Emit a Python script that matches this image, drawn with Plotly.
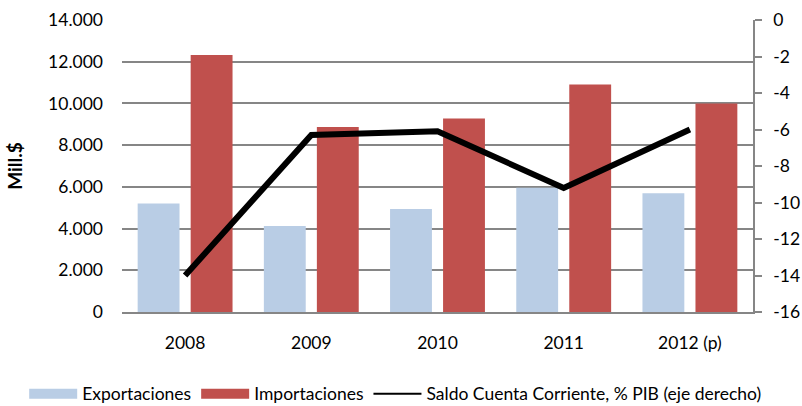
import plotly.graph_objects as go

years = ["2008", "2009", "2010", "2011", "2012 (p)"]
exportaciones = [5200, 4120, 4940, 5960, 5690]
importaciones = [12320, 8870, 9280, 10910, 10000]
saldo_pib = [-14.0, -6.3, -6.1, -9.2, -6.0]

left_ticks = [0, 2000, 4000, 6000, 8000, 10000, 12000, 14000]
left_labels = ["0", "2.000", "4.000", "6.000", "8.000", "10.000", "12.000", "14.000"]
right_ticks = [0, -2, -4, -6, -8, -10, -12, -14, -16]
right_labels = ["0", "-2", "-4", "-6", "-8", "-10", "-12", "-14", "-16"]

FONT = "Lato"
SIZE = 17.5
EXP_COLOR = "#B9CDE5"
IMP_COLOR = "#C0504D"
line_name = "Saldo Cuenta Corriente, % PIB (eje derecho)"

fig = go.Figure()
fig.add_trace(go.Bar(x=years, y=exportaciones, name="Exportaciones", showlegend=False,
                     marker=dict(color=EXP_COLOR, line=dict(width=0))))
fig.add_trace(go.Bar(x=years, y=importaciones, name="Importaciones", showlegend=False,
                     marker=dict(color=IMP_COLOR, line=dict(width=0))))
fig.add_trace(go.Scatter(x=years, y=saldo_pib, name=line_name,
                         mode="lines", yaxis="y2", showlegend=False,
                         line=dict(color="black", width=6)))
# legend-only entries: wide rectangular swatches and a thin line, as in the reference
fig.add_trace(go.Scatter(x=[years[0]], y=[None], name="Exportaciones", mode="lines",
                         line=dict(color=EXP_COLOR, width=12)))
fig.add_trace(go.Scatter(x=[years[0]], y=[None], name="Importaciones", mode="lines",
                         line=dict(color=IMP_COLOR, width=12)))
fig.add_trace(go.Scatter(x=[years[0]], y=[None], name=line_name, mode="lines",
                         yaxis="y2", line=dict(color="black", width=2)))

fig.update_layout(
    width=802, height=406,
    margin=dict(l=122, r=49, t=20, b=94, autoexpand=False),
    paper_bgcolor="white", plot_bgcolor="white",
    font=dict(family=FONT, size=SIZE, color="#000000"),
    barmode="group", bargap=0.16, bargroupgap=0.21,
    showlegend=True,
    legend=dict(orientation="h", x=-0.155, xanchor="left", y=-0.28, yanchor="middle",
                font=dict(family=FONT, size=SIZE), traceorder="normal",
                itemwidth=48, tracegroupgap=0),
    xaxis=dict(showgrid=False, showline=True, linecolor="#868686", linewidth=2,
               ticks="", ticklabelstandoff=14),
    yaxis=dict(range=[0, 14000], tickvals=left_ticks, ticktext=left_labels,
               showgrid=True, gridcolor="#868686", gridwidth=1.5,
               zeroline=False, showline=False, ticks="", ticklabelstandoff=18,
               title=dict(text="<b>Mill.$</b>", font=dict(size=19), standoff=20)),
    yaxis2=dict(range=[-16, 0], tickvals=right_ticks, ticktext=right_labels,
                overlaying="y", side="right",
                showgrid=False, zeroline=False, showline=True, linecolor="#868686",
                linewidth=1.5, ticks="outside", ticklen=7, tickcolor="#868686",
                tickwidth=1.5, ticklabelstandoff=8),
)

fig.write_html("out.html", config={"displayModeBar": False},
               post_script="document.body.style.margin='0';document.body.style.overflow='hidden';")
